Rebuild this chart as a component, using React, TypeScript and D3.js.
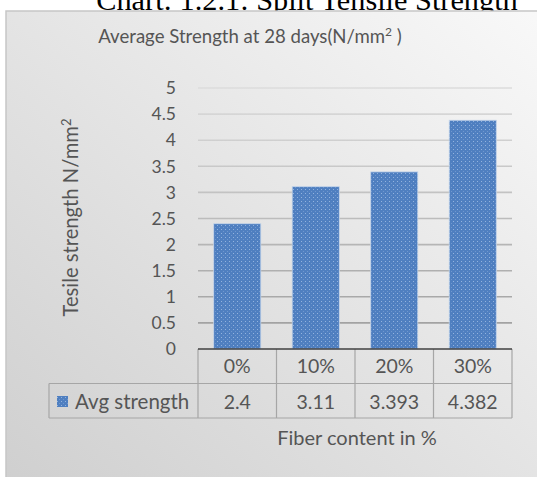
import React from "react";
import * as d3 from "d3";

const categories = ["0%", "10%", "20%", "30%"];
const values = [2.4, 3.11, 3.393, 4.382];
const valueLabels = ["2.4", "3.11", "3.393", "4.382"];
const yTicks = [0, 0.5, 1, 1.5, 2, 2.5, 3, 3.5, 4, 4.5, 5];
const seriesName = "Avg strength";
const chartTitle = "Average Strength at 28 days(N/mm";
const pageTitle = "Chart: 1.2.1: Split Tensile Strength";
const yTitle = "Tesile strength N/mm";
const xTitle = "Fiber content in %";

const W = 537, H = 477;
const plotL = 198, plotR = 512, plotT = 88, plotB = 349;
const rowH = 34.5;
const legendL = 49;
const FONT = "Lato, 'Open Sans', sans-serif";
const TXT = "#555555";

export default function App() {
  const y = d3.scaleLinear().domain([0, 5]).range([plotB, plotT]);
  const xBar = d3.scaleBand<string>().domain(categories).range([plotL, plotR]).paddingInner(0.4).paddingOuter(0.2);
  const xCell = d3.scaleBand<string>().domain(categories).range([plotL, plotR]).padding(0);
  const row1B = plotB + rowH;
  const row2B = row1B + rowH;
  const fmt = (v: number) => String(v);
  return (
    <svg width={W} height={H} style={{ position: "absolute", left: 0, top: 0 }} fontFamily={FONT}>
      <defs>
        <linearGradient id="bg" x1="1" y1="0" x2="0" y2="1">
          <stop offset="0" stopColor="#f9f9f9" />
          <stop offset="1" stopColor="#cfcfcf" />
        </linearGradient>
        <linearGradient id="grid" gradientUnits="userSpaceOnUse" x1="0" y1={plotT} x2="0" y2={plotB}>
          <stop offset="0" stopColor="#dcdcdc" />
          <stop offset="1" stopColor="#9c9c9c" />
        </linearGradient>
        <pattern id="dots" width="4" height="4" patternUnits="userSpaceOnUse">
          <rect width="4" height="4" fill="#4f7fc0" />
          <rect x="1" y="1" width="1" height="1" fill="#93b3de" />
          <rect x="3" y="3" width="1" height="1" fill="#6f97cf" />
        </pattern>
      </defs>
      <rect width={W} height={H} fill="#ffffff" />
      <text x={307} y={9.5} textAnchor="middle" fontFamily="'Liberation Serif', serif" fontSize={30.3} fill="#000">{pageTitle}</text>
      <rect x={6} y={11} width={W + 10} height={H} fill="url(#bg)" stroke="#c6c6c6" strokeWidth={1.5} />
      <text x={250} y={43} textAnchor="middle" fontSize={18.6} fill={TXT}>
        {chartTitle}
        <tspan fontSize={12} dy={-7}>2</tspan>
        <tspan dy={7}> )</tspan>
      </text>
      {yTicks.map((t) => (
        <g key={t}>
          {t > 0 && <line x1={plotL} x2={plotR} y1={y(t)} y2={y(t)} stroke="url(#grid)" strokeWidth={1.6} />}
          <text x={176} y={y(t) + 6.2} textAnchor="end" fontSize={17.5} fill={TXT}>{fmt(t)}</text>
        </g>
      ))}
      {categories.map((c, i) => (
        <rect key={c} x={xBar(c)} y={y(values[i])} width={xBar.bandwidth()} height={plotB - y(values[i])} fill="url(#dots)" stroke="#c5d5ea" strokeWidth={0.8} />
      ))}
      <g stroke="#a6a6a6" strokeWidth={1.2} fill="none">
        <line x1={plotL} x2={plotR} y1={row1B} y2={row1B} />
        <line x1={legendL} x2={plotR} y1={row2B} y2={row2B} />
        <line x1={legendL} x2={plotL} y1={row1B} y2={row1B} />
        <line x1={legendL} x2={legendL} y1={row1B} y2={row2B} />
        {categories.map((c) => (
          <line key={c} x1={xCell(c)} x2={xCell(c)} y1={plotB} y2={row2B} />
        ))}
        <line x1={plotR} x2={plotR} y1={plotB} y2={row2B} />
      </g>
      <line x1={plotL} x2={plotR} y1={plotB} y2={plotB} stroke="#404040" strokeWidth={1.3} />
      {categories.map((c, i) => (
        <g key={c}>
          <text x={xCell(c)! + xCell.bandwidth() / 2} y={plotB + 24} textAnchor="middle" fontSize={19.5} fill={TXT}>{c}</text>
          <text x={xCell(c)! + xCell.bandwidth() / 2} y={row1B + 25} textAnchor="middle" fontSize={19.5} fill={TXT}>{valueLabels[i]}</text>
        </g>
      ))}
      <rect x={57} y={396} width={11} height={11} fill="url(#dots)" />
      <text x={75} y={row1B + 25} fontSize={20.5} fill={TXT}>{seriesName}</text>
      <text x={357} y={445} textAnchor="middle" fontSize={20} fill={TXT}>{xTitle}</text>
      <text transform={`translate(77.5, 217.5) rotate(-90)`} textAnchor="middle" fontSize={20.2} fill={TXT}>
        {yTitle}
        <tspan fontSize={13} dy={-7}>2</tspan>
      </text>
    </svg>
  );
}
